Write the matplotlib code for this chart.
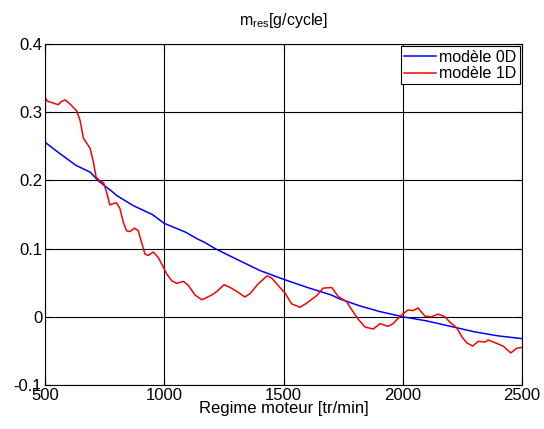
import matplotlib
matplotlib.use("Agg")
import matplotlib.pyplot as plt

# --- Data ---
rpm_0d = [500, 560, 630, 690, 725, 780, 800, 870, 950, 1000, 1090, 1140, 1170, 1213,
          1300, 1400, 1500, 1600, 1700, 1737, 1820, 1900, 2000, 2100, 2200, 2300,
          2400, 2500]
m_0d = [0.256, 0.240, 0.222, 0.212, 0.199, 0.184, 0.178, 0.163, 0.150, 0.137, 0.124,
        0.114, 0.109, 0.100, 0.085, 0.068, 0.055, 0.043, 0.032, 0.026, 0.016, 0.008,
        0.000, -0.006, -0.014, -0.022, -0.028, -0.032]

rpm_1d = [500, 510, 530, 555, 570, 585, 605, 633, 647, 661, 689, 703, 714, 731, 745,
          758, 772, 786, 800, 814, 828, 842, 856, 877, 891, 905, 919, 933, 954, 975,
          996, 1010, 1031, 1052, 1080, 1101, 1129, 1157, 1171, 1199, 1220, 1251, 1276,
          1310, 1338, 1360, 1393, 1431, 1450, 1485, 1506, 1534, 1569, 1597, 1639, 1666,
          1702, 1729, 1765, 1779, 1812, 1842, 1876, 1905, 1938, 1960, 1989, 2022, 2043,
          2064, 2093, 2121, 2148, 2177, 2198, 2226, 2247, 2268, 2293, 2316, 2345, 2358,
          2387, 2421, 2453, 2478, 2500]
m_1d = [0.322, 0.316, 0.314, 0.311, 0.316, 0.318, 0.312, 0.302, 0.288, 0.262, 0.247,
        0.227, 0.205, 0.199, 0.197, 0.183, 0.164, 0.166, 0.167, 0.159, 0.139, 0.126,
        0.125, 0.130, 0.126, 0.109, 0.092, 0.090, 0.095, 0.087, 0.073, 0.063, 0.053,
        0.049, 0.052, 0.046, 0.032, 0.025, 0.027, 0.032, 0.037, 0.047, 0.043, 0.036,
        0.029, 0.034, 0.048, 0.060, 0.057, 0.043, 0.035, 0.019, 0.014, 0.020, 0.031,
        0.042, 0.043, 0.030, 0.022, 0.014, -0.003, -0.015, -0.018, -0.010, -0.014,
        -0.010, 0.001, 0.010, 0.009, 0.013, 0.001, 0.000, 0.004, 0.000, -0.008, -0.016,
        -0.029, -0.038, -0.043, -0.036, -0.037, -0.034, -0.038, -0.043, -0.053, -0.046,
        -0.045]

x_ticks = [500, 1000, 1500, 2000, 2500]
y_ticks = [-0.1, 0, 0.1, 0.2, 0.3, 0.4]
y_tick_labels = ["-0.1", "0", "0.1", "0.2", "0.3", "0.4"]

plt.rcParams['font.family'] = ['Liberation Sans', 'DejaVu Sans']
plt.rcParams['mathtext.default'] = 'regular'

fig = plt.figure(figsize=(5.44, 4.29), dpi=100)
ax = fig.add_axes([0.0827, 0.1026, 0.8769, 0.7948])

ax.plot(rpm_0d, m_0d, color='#0000ff', linewidth=1.1, label='modèle 0D')
ax.plot(rpm_1d, m_1d, color='#ff0000', linewidth=1.1, label='modèle 1D')

ax.set_xlim(500, 2500)
ax.set_ylim(-0.1, 0.4)
ax.set_xticks(x_ticks)
ax.set_yticks(y_ticks)
ax.set_yticklabels(y_tick_labels)
ax.tick_params(direction='in', labelsize=12, length=4, pad=2, top=True, right=True)
ax.grid(True, color='black', linewidth=0.8)
for s in ax.spines.values():
    s.set_linewidth(0.8)

ax.set_title(r'm$_{res}$[g/cycle]', fontsize=11.5, pad=14)
ax.set_xlabel('Regime moteur [tr/min]', fontsize=12, labelpad=-1)

leg = ax.legend(loc='upper right', fontsize=11.5, fancybox=False, framealpha=1,
                edgecolor='black', handlelength=2.0, handletextpad=0.2,
                borderpad=0.2, labelspacing=0.1, borderaxespad=0.15)
leg.get_frame().set_linewidth(0.8)

fig.savefig('out.png', dpi=100)
